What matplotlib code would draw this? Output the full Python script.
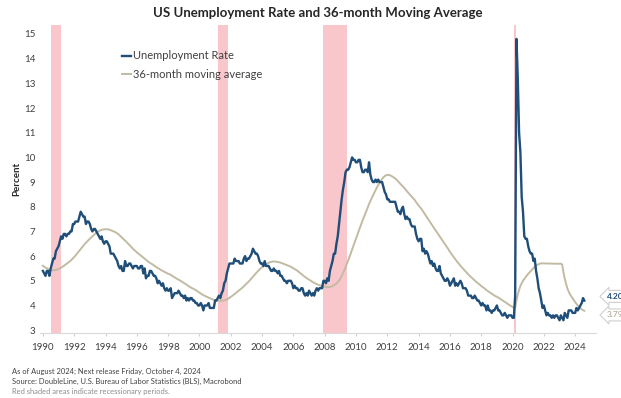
import numpy as np
import pandas as pd
import matplotlib.pyplot as plt

plt.rcParams['font.family'] = ['Lato', 'DejaVu Sans']

# Monthly US unemployment rate (SA, %), Jan 1987 - Aug 2024
ur_1987_1989 = [6.6, 6.6, 6.6, 6.3, 6.3, 6.2, 6.1, 6.0, 5.9, 6.0, 5.8, 5.7,
                5.7, 5.7, 5.7, 5.4, 5.6, 5.4, 5.4, 5.6, 5.4, 5.4, 5.3, 5.3,
                5.4, 5.2, 5.0, 5.2, 5.2, 5.3, 5.2, 5.2, 5.3, 5.3, 5.4, 5.4]
ur_1990s = [5.4, 5.3, 5.2, 5.4, 5.4, 5.2, 5.5, 5.7, 5.9, 5.9, 6.2, 6.3,
            6.4, 6.6, 6.8, 6.7, 6.9, 6.9, 6.8, 6.9, 6.9, 7.0, 7.0, 7.3,
            7.3, 7.4, 7.4, 7.4, 7.6, 7.8, 7.7, 7.6, 7.6, 7.3, 7.4, 7.4,
            7.3, 7.1, 7.0, 7.1, 7.1, 7.0, 6.9, 6.8, 6.7, 6.8, 6.6, 6.5,
            6.6, 6.6, 6.5, 6.4, 6.1, 6.1, 6.1, 6.0, 5.9, 5.8, 5.6, 5.5,
            5.6, 5.4, 5.4, 5.8, 5.6, 5.6, 5.7, 5.7, 5.6, 5.5, 5.6, 5.6,
            5.6, 5.5, 5.5, 5.6, 5.6, 5.3, 5.5, 5.1, 5.2, 5.2, 5.4, 5.4,
            5.3, 5.2, 5.2, 5.1, 4.9, 5.0, 4.9, 4.8, 4.9, 4.7, 4.6, 4.7,
            4.6, 4.6, 4.7, 4.3, 4.4, 4.5, 4.5, 4.5, 4.6, 4.5, 4.4, 4.4,
            4.3, 4.4, 4.2, 4.3, 4.2, 4.3, 4.3, 4.2, 4.2, 4.1, 4.1, 4.0]
ur_2000s = [4.0, 4.1, 4.0, 3.8, 4.0, 4.0, 4.0, 4.1, 3.9, 3.9, 3.9, 3.9,
            4.2, 4.2, 4.3, 4.4, 4.3, 4.5, 4.6, 4.9, 5.0, 5.3, 5.5, 5.7,
            5.7, 5.7, 5.7, 5.9, 5.8, 5.8, 5.8, 5.7, 5.7, 5.7, 5.9, 6.0,
            5.8, 5.9, 5.9, 6.0, 6.1, 6.3, 6.2, 6.1, 6.1, 6.0, 5.8, 5.7,
            5.7, 5.6, 5.8, 5.6, 5.6, 5.6, 5.5, 5.4, 5.4, 5.5, 5.4, 5.4,
            5.3, 5.4, 5.2, 5.2, 5.1, 5.0, 5.0, 4.9, 5.0, 5.0, 5.0, 4.9,
            4.7, 4.8, 4.7, 4.7, 4.6, 4.6, 4.7, 4.7, 4.5, 4.4, 4.5, 4.4,
            4.6, 4.5, 4.4, 4.5, 4.4, 4.6, 4.7, 4.6, 4.7, 4.7, 4.7, 5.0,
            5.0, 4.9, 5.1, 5.0, 5.4, 5.6, 5.8, 6.1, 6.1, 6.5, 6.8, 7.3,
            7.8, 8.3, 8.7, 9.0, 9.4, 9.5, 9.5, 9.6, 9.8, 10.0, 9.9, 9.9]
ur_2010s = [9.8, 9.8, 9.9, 9.9, 9.6, 9.4, 9.4, 9.5, 9.5, 9.4, 9.8, 9.3,
            9.1, 9.0, 9.0, 9.1, 9.0, 9.1, 9.0, 9.0, 9.0, 8.8, 8.6, 8.5,
            8.3, 8.3, 8.2, 8.2, 8.2, 8.2, 8.2, 8.0, 7.8, 7.8, 7.7, 7.9,
            8.0, 7.7, 7.5, 7.6, 7.5, 7.5, 7.3, 7.2, 7.2, 7.2, 6.9, 6.7,
            6.6, 6.7, 6.7, 6.2, 6.3, 6.1, 6.2, 6.1, 5.9, 5.7, 5.8, 5.6,
            5.7, 5.5, 5.4, 5.4, 5.6, 5.3, 5.2, 5.1, 5.0, 5.0, 5.1, 5.0,
            4.8, 4.9, 5.0, 5.1, 4.8, 4.9, 4.8, 4.9, 5.0, 4.9, 4.7, 4.7,
            4.7, 4.6, 4.4, 4.4, 4.4, 4.3, 4.3, 4.4, 4.3, 4.2, 4.2, 4.1,
            4.0, 4.1, 4.0, 4.0, 3.8, 4.0, 3.8, 3.8, 3.7, 3.8, 3.8, 3.9,
            4.0, 3.8, 3.8, 3.7, 3.6, 3.6, 3.7, 3.6, 3.5, 3.6, 3.6, 3.6]
ur_2020s = [3.5, 3.5, 4.4, 14.8, 13.2, 11.0, 10.2, 8.4, 7.8, 6.8, 6.7, 6.7,
            6.4, 6.2, 6.1, 6.1, 5.8, 5.9, 5.4, 5.1, 4.7, 4.5, 4.2, 3.9,
            4.0, 3.8, 3.6, 3.7, 3.6, 3.6, 3.5, 3.6, 3.5, 3.6, 3.6, 3.5,
            3.4, 3.6, 3.5, 3.4, 3.7, 3.6, 3.5, 3.8, 3.8, 3.8, 3.7, 3.7,
            3.7, 3.9, 3.8, 3.9, 4.0, 4.1, 4.3, 4.2]

# NBER recessions (start, end) as decimal years
recessions = [(1990.5, 1991.17), (2001.17, 2001.83), (2007.92, 2009.42), (2020.08, 2020.25)]

year_ticks = list(range(1990, 2025, 2))

ur = pd.Series(ur_1987_1989 + ur_1990s + ur_2000s + ur_2010s + ur_2020s)
t = 1987 + np.arange(len(ur)) / 12
ma = ur.rolling(36).mean()
show = t >= 1990

navy = '#1f4e79'
khaki = '#c2bba3'

fig = plt.figure(figsize=(6.21, 3.98), dpi=100)
ax = fig.add_axes([0.064, 0.163, 0.895, 0.774])

for start, end in recessions:
    ax.axvspan(start, end, color='#f9c6cb', lw=0, zorder=0)

ax.plot(t[show], ma[show], color=khaki, lw=1.4, label='36-month moving average', zorder=2)
ax.plot(t[show], ur[show], color=navy, lw=1.7, label='Unemployment Rate', zorder=3)

ax.set_xlim(1989.8, 2025.3)
ax.set_ylim(2.88, 15.36)
ax.set_yticks(range(3, 16))
ax.set_xticks(year_ticks)
ax.tick_params(axis='y', length=0, labelsize=7, labelcolor='#404040', pad=3)
ax.tick_params(axis='x', length=2, color='#d0d0d0', labelsize=7, labelcolor='#404040', pad=5)
for side in ['top', 'right', 'left']:
    ax.spines[side].set_visible(False)
ax.spines['bottom'].set_color('#d9d9d9')
ax.spines['bottom'].set_linewidth(0.8)

ax.set_ylabel('Percent', fontsize=7, fontweight='bold', color='#262626', labelpad=2)
ax.set_title('US Unemployment Rate and 36-month Moving Average',
             fontsize=9.5, fontweight='bold', color='#262626', pad=6)

handles, labels = ax.get_legend_handles_labels()
leg = ax.legend(handles[::-1], labels[::-1], loc='upper left', bbox_to_anchor=(0.13, 0.95),
                frameon=False, fontsize=8, handlelength=0.8, handletextpad=0.2,
                labelspacing=0.7, labelcolor='#404040')

# End-of-series value tags
last_ur = ur.iloc[-1]
last_ma = ma.iloc[-1]
tag_style = dict(boxstyle='larrow,pad=0.3', fc='white', ec='#cfcfcf', lw=0.8)
ax.annotate(f'{last_ur:.2f}', xy=(1.0, last_ur), xycoords=('axes fraction', 'data'),
            xytext=(8, 3), textcoords='offset points', va='center', ha='left',
            fontsize=6, fontweight='bold', color=navy, bbox=tag_style, annotation_clip=False)
ax.annotate(f'{last_ma:.2f}', xy=(1.0, last_ma), xycoords=('axes fraction', 'data'),
            xytext=(8, -3), textcoords='offset points', va='center', ha='left',
            fontsize=6, color='#a8a08a', bbox=tag_style, annotation_clip=False)

fig.text(0.02, 0.06, 'As of August 2024; Next release Friday, October 4, 2024',
         fontsize=5.4, color='#404040')
fig.text(0.02, 0.035, 'Source: DoubleLine, U.S. Bureau of Labor Statistics (BLS), Macrobond',
         fontsize=5.4, color='#404040')
fig.text(0.02, 0.01, 'Red shaded areas indicate recessionary periods.',
         fontsize=5.4, color='#8c8c8c')

fig.savefig('out.png', dpi=100)
